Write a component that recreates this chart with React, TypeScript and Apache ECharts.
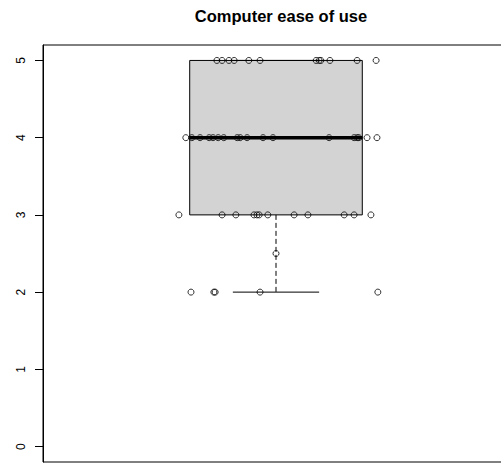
import React, { useEffect, useRef } from "react";
import * as echarts from "echarts";

const chartTitle = "Computer ease of use";
const yTicks = [0, 1, 2, 3, 4, 5];
// [min whisker, Q1, median, Q3, max whisker]
const boxStats = [2, 3, 4, 5, 5];
const boxCenter = 1;

// jittered x positions of the strip-chart points at each response level
const level5X = [0.863, 0.875, 0.891, 0.903, 0.937, 0.963, 1.093, 1.1, 1.104, 1.125, 1.188, 1.232];
const level4X = [0.791, 0.805, 0.824, 0.845, 0.854, 0.866, 0.879, 0.91, 0.917, 0.933, 0.97, 0.993, 1.123, 1.181, 1.188, 1.192, 1.211, 1.234];
const level3X = [0.775, 0.875, 0.907, 0.949, 0.956, 0.961, 0.981, 1.042, 1.074, 1.158, 1.181, 1.22];
const level25X = [1.0];
const level2X = [0.803, 0.856, 0.859, 0.963, 1.236];

const levels: [number, number[]][] = [
  [5, level5X],
  [4, level4X],
  [3, level3X],
  [2.5, level25X],
  [2, level2X],
];

export default function App() {
  const ref = useRef<HTMLDivElement>(null);
  useEffect(() => {
    document.body.style.margin = "0";
    const chart = echarts.init(ref.current!, null, { renderer: "svg" });
    const points: number[][] = [];
    levels.forEach(([y, xs]) => xs.forEach((x) => points.push([x, y])));
    const boxHalf = 0.2;
    const capHalf = 0.1;
    chart.setOption({
      animation: false,
      backgroundColor: "#fff",
      title: {
        text: chartTitle,
        left: 276,
        top: 2,
        textAlign: "center",
        textStyle: {
          fontFamily: "Liberation Sans, Arial, sans-serif",
          fontWeight: "bold",
          fontSize: 16.5,
          color: "#000",
        },
      },
      grid: {
        left: 43,
        top: 45,
        right: 11,
        bottom: 2,
        show: true,
        borderColor: "#000",
        borderWidth: 1,
        backgroundColor: "transparent",
      },
      xAxis: {
        type: "value",
        min: 0.46,
        max: 1.54,
        axisLine: { show: false },
        axisTick: { show: false },
        axisLabel: { show: false },
        splitLine: { show: false },
      },
      yAxis: {
        type: "value",
        min: -0.2,
        max: 5.2,
        splitLine: { show: false },
        axisLine: { show: true, lineStyle: { color: "#000", width: 1 } },
        axisTick: {
          show: true,
          length: 8,
          customValues: yTicks,
          lineStyle: { color: "#000" },
        },
        axisLabel: {
          show: true,
          customValues: yTicks,
          rotate: 90,
          margin: 16,
          color: "#000",
          fontSize: 12,
          fontFamily: "Liberation Sans, Arial, sans-serif",
        },
      },
      series: [
        {
          type: "custom",
          data: [[boxCenter, ...boxStats]],
          clip: false,
          renderItem: (params: any, api: any) => {
            const x = api.value(0);
            const lo = api.value(1);
            const q1 = api.value(2);
            const med = api.value(3);
            const q3 = api.value(4);
            const hi = api.value(5);
            const tl = api.coord([x - boxHalf, q3]);
            const br = api.coord([x + boxHalf, q1]);
            const mL = api.coord([x - boxHalf, med]);
            const mR = api.coord([x + boxHalf, med]);
            const wq1 = api.coord([x, q1]);
            const wlo = api.coord([x, lo]);
            const wq3 = api.coord([x, q3]);
            const whi = api.coord([x, hi]);
            const cL = api.coord([x - capHalf, lo]);
            const cR = api.coord([x + capHalf, lo]);
            const uL = api.coord([x - capHalf, hi]);
            const uR = api.coord([x + capHalf, hi]);
            return {
              type: "group",
              children: [
                {
                  type: "rect",
                  shape: { x: tl[0], y: tl[1], width: br[0] - tl[0], height: br[1] - tl[1] },
                  style: { fill: "#d3d3d3", stroke: "#000", lineWidth: 1 },
                },
                {
                  type: "line",
                  shape: { x1: wq1[0], y1: wq1[1], x2: wlo[0], y2: wlo[1] },
                  style: { stroke: "#000", lineWidth: 1, lineDash: [5, 3] },
                },
                {
                  type: "line",
                  shape: { x1: cL[0], y1: cL[1], x2: cR[0], y2: cR[1] },
                  style: { stroke: "#000", lineWidth: 1 },
                },
                {
                  type: "line",
                  shape: { x1: wq3[0], y1: wq3[1], x2: whi[0], y2: whi[1] },
                  style: { stroke: "#000", lineWidth: 1, lineDash: [5, 3] },
                },
                {
                  type: "line",
                  shape: { x1: uL[0], y1: uL[1], x2: uR[0], y2: uR[1] },
                  style: { stroke: "#000", lineWidth: 1 },
                },
                {
                  type: "line",
                  shape: { x1: mL[0], y1: mL[1], x2: mR[0], y2: mR[1] },
                  style: { stroke: "#000", lineWidth: 3.5 },
                },
              ],
            };
          },
        },
        {
          type: "scatter",
          data: points,
          symbol: "circle",
          symbolSize: 6,
          itemStyle: {
            color: "rgba(0,0,0,0)",
            borderColor: "#000",
            borderWidth: 1,
          },
        },
      ],
    });
    return () => chart.dispose();
  }, []);
  return (
    <div style={{ width: 501, height: 464, overflow: "hidden", position: "relative" }}>
      <div ref={ref} style={{ width: 520, height: 464 }} />
    </div>
  );
}
